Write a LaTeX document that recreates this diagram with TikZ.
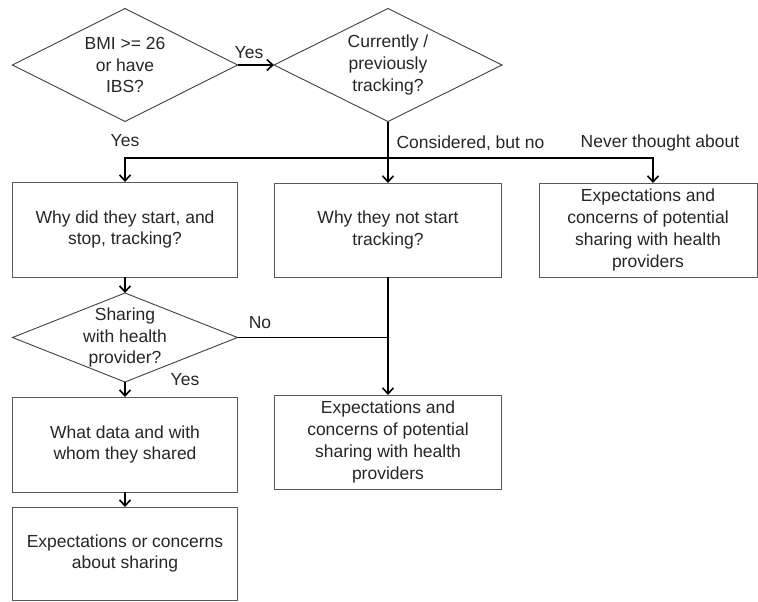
\documentclass[tikz,border=0pt]{standalone}
\usepackage{fontspec}
\setmainfont{Liberation Sans}
\usetikzlibrary{shapes,arrows,arrows.meta}

\begin{document}
\begin{tikzpicture}[x=1pt,y=-1pt]
\tikzstyle{every node} = [font=\fontsize{17.5}{21.7}\selectfont, text=black!85, align=center]
\tikzstyle{box} = [draw=black!65, line width=1pt, rectangle, inner sep=0pt, outer sep=0pt]
\tikzstyle{decision} = [draw=black!75, line width=0.9pt, shape=diamond, shape aspect=2, inner sep=-6pt, outer sep=0pt]
\tikzstyle{flow} = [line width=1.6pt, >={Straight Barb[length=6pt,width=11pt]}]

\useasboundingbox (0,0) rectangle (758,602);

\node [decision, minimum width=225pt, minimum height=113pt] (bmi) at (125,65) {BMI >= 26\\or have\\IBS?};
\node [decision, minimum width=228pt, minimum height=113pt] (track) at (388,65) {Currently /\\previously\\tracking?};

\node [box, minimum width=225pt, minimum height=95pt] (why) at (125,229.5) {Why did they start, and\\stop, tracking?};
\node [box, minimum width=227pt, minimum height=94pt] (whynot) at (388,230) {Why they not start\\tracking?};
\node [box, minimum width=218pt, minimum height=94pt] (potential) at (648,230) {Expectations and\\concerns of potential\\sharing with health\\providers};

\node [decision, shape aspect=2.5, minimum width=225pt, minimum height=89pt] (share) at (125,337.5) {Sharing\\with health\\provider?};
\node [box, minimum width=227pt, minimum height=94pt] (potential2) at (388,442) {Expectations and\\concerns of potential\\sharing with health\\providers};
\node [box, minimum width=225pt, minimum height=95pt] (shared) at (125,444.5) {What data and with\\whom they shared};
\node [box, minimum width=225pt, minimum height=93pt] (concerns) at (125,553.5) {Expectations or concerns\\about sharing};

\coordinate (split) at (388,158);
\coordinate (never) at (653,158);

\draw [flow, ->] (bmi.east) -- (track.west);
\draw [flow] (track.south) -- (split);
\draw [flow, ->] (split) -| (why.north);
\draw [flow, ->] (split) -- (whynot.north);
\draw [flow, ->] (split) -- (never) -- (never |- potential.north);
\draw [flow, ->] (why.south) -- (share.north);
\draw [flow, ->] (whynot.south) -- (potential2.north);
\draw [flow] (share.east) -- (share.east -| whynot.south);
\draw [flow, ->] (share.south) -- (shared.north);
\draw [flow, ->] (shared.south) -- (concerns.north);

\node (yes1) at (249,53) {Yes};
\node (yes2) at (125,141) {Yes};
\node [anchor=west] (considered) at (393,143) {Considered, but no};
\node (thought) at (660,143) {Never thought about};
\node (no) at (260,323) {No};
\node (yes3) at (185,380) {Yes};
\end{tikzpicture}
\end{document}
